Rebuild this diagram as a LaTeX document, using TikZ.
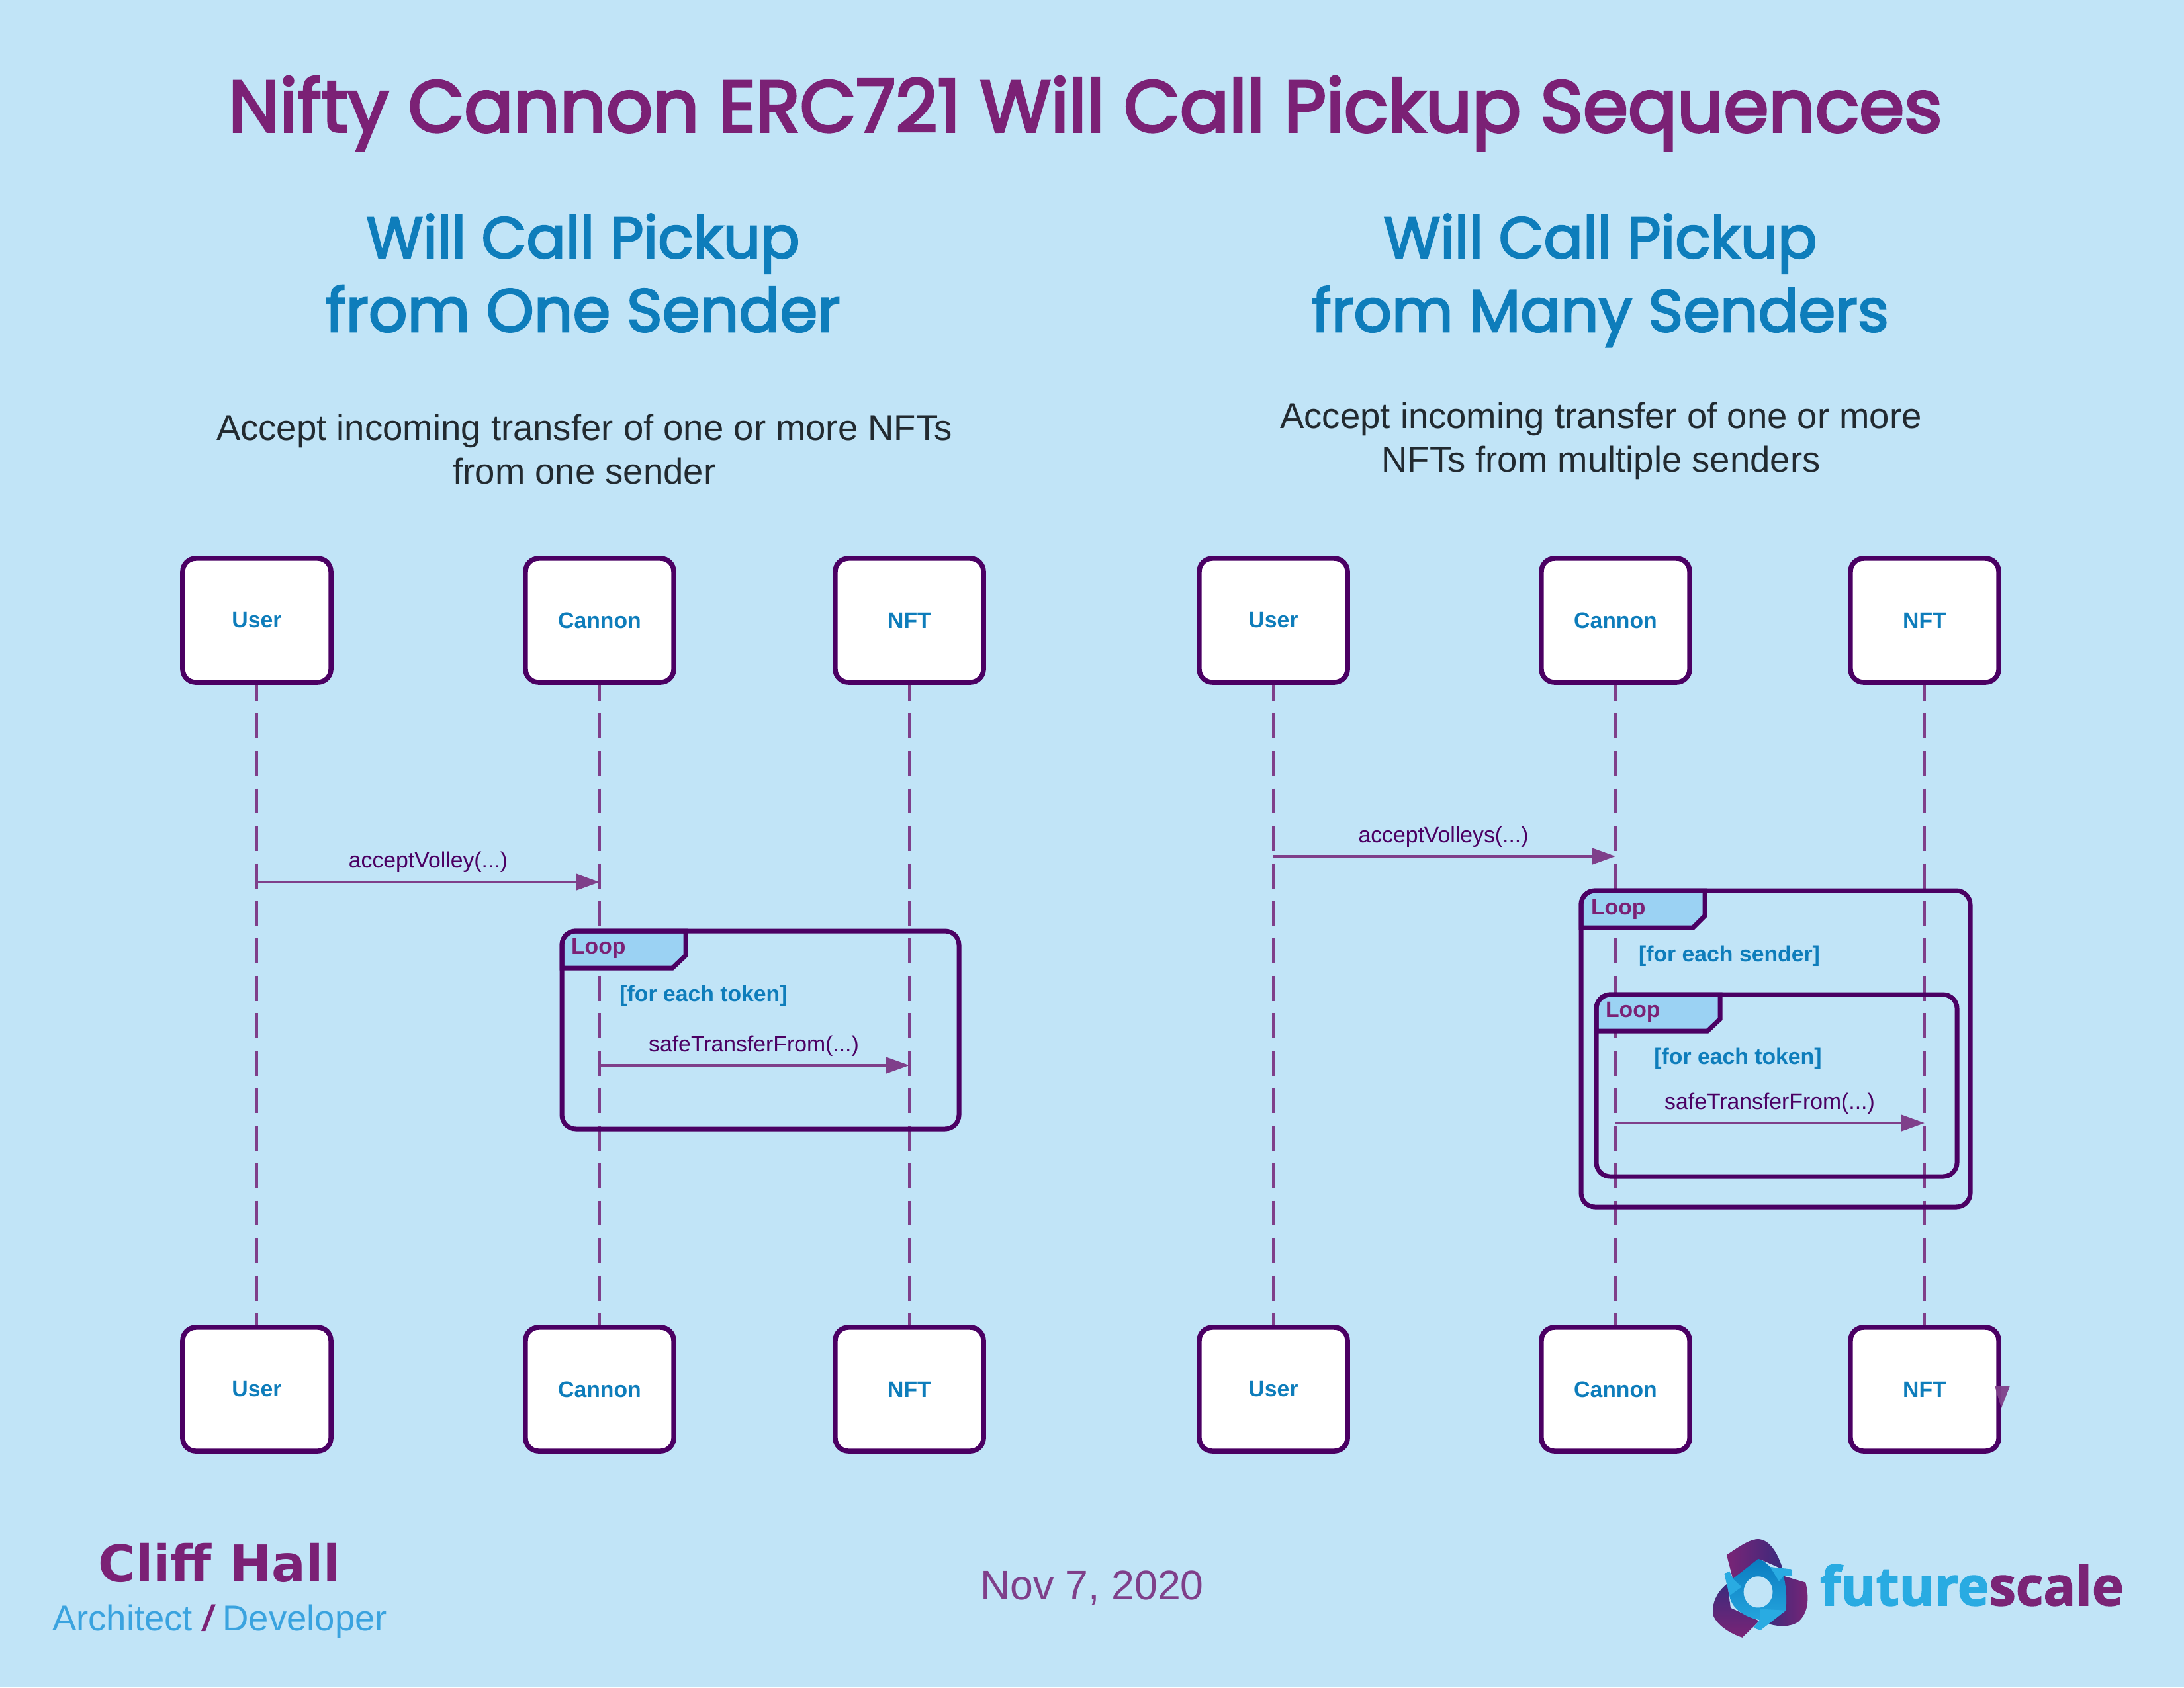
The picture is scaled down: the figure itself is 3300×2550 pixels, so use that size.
\documentclass[tikz,border=0pt]{standalone}
\usepackage{fontspec}
\setmainfont{Liberation Sans}
\newfontfamily\titlefont[FakeBold=3.5]{Poppins}
\newfontfamily\subfont[FakeBold=2.8]{Poppins}
\newfontfamily\headfont{DejaVu Sans}
\newfontfamily\logofont[FakeBold=2]{Open Sans Bold}
\definecolor{bgc}{HTML}{C1E4F7}
\definecolor{titlec}{HTML}{7B2175}
\definecolor{bluec}{HTML}{0E7DBB}
\definecolor{framec}{HTML}{4B0063}
\definecolor{linec}{HTML}{7F3F8A}
\definecolor{tabc}{HTML}{9BD2F3}
\definecolor{skyc}{HTML}{3AA3DF}
\definecolor{descc}{HTML}{222A30}
\definecolor{logob}{HTML}{29ABE2}
\definecolor{logod}{HTML}{0A7CC0}
\definecolor{logop}{HTML}{7A2476}
\definecolor{logon}{HTML}{3C2A7C}
\usetikzlibrary{arrows.meta}
\tikzset{
  txt/.style={inner sep=0pt,outer sep=0pt,anchor=base},
  actor/.style={draw=framec,line width=7.5*0.2845pt,fill=white,rounded corners=5.7pt,minimum width=224*0.2845pt,minimum height=187*0.2845pt,inner sep=0pt,text=bluec,font=\fontsize{9.6}{11}\selectfont\bfseries},
  life/.style={draw=linec,line width=3.8*0.2845pt,dash pattern=on 37.7*0.2845pt off 18.9*0.2845pt,dash phase=13*0.2845pt},
  msg/.style={draw=linec,line width=3.8*0.2845pt,-{Triangle[length=35*0.2845pt,width=24*0.2845pt,fill=linec,color=linec]},shorten >=0pt},
  msgl/.style={txt,text=framec,font=\fontsize{9.6}{11}\selectfont},
  frame/.style={draw=framec,line width=7*0.2845pt,rounded corners=6pt},
  tabb/.style={draw=framec,line width=7*0.2845pt,fill=tabc,line join=miter},
  loopl/.style={txt,anchor=base west,text=titlec,font=\fontsize{9.6}{11}\selectfont\bfseries},
  cond/.style={txt,text=bluec,font=\fontsize{9.6}{11}\selectfont\bfseries},
  big/.style={txt,text=titlec,font=\titlefont\fontsize{31.2}{36}\selectfont},
  sub/.style={txt,text=bluec,font=\subfont\fontsize{#1}{30}\selectfont},
  desc/.style={txt,text=descc,font=\fontsize{15.5}{18}\selectfont},
}
\begin{document}
\begin{tikzpicture}[x=0.01cm,y=-0.01cm]
\useasboundingbox (0,0) rectangle (3300,2550);
\fill[bgc] (0,0) rectangle (3300,2550);
% titles
\node[big] (title) at (1640,199) {Nifty Cannon ERC721 Will Call Pickup Sequences};
\node[sub=25] (s1a) at (881,390) {Will Call Pickup};
\node[sub=26.1] (s1b) at (881,501) {from One Sender};
\node[sub=25] (s2a) at (2418,390) {Will Call Pickup};
\node[sub=25.6] (s2b) at (2418,501) {from Many Senders};
\node[desc] (d1a) at (883,665) {Accept incoming transfer of one or more NFTs};
\node[desc] (d1b) at (883,731) {from one sender};
\node[desc] (d2a) at (2419,647) {Accept incoming transfer of one or more};
\node[desc] (d2b) at (2419,713) {NFTs from multiple senders};
% actors
\foreach \n/\x/\t in {ua/388/User,ca/906/Cannon,na/1374/NFT,ub/1924/User,cb/2441/Cannon,nb/2908/NFT}{
  \node[actor] (\n T) at (\x,937.5) {\t};
  \node[actor] (\n B) at (\x,2099.5) {\t};
  \draw[life] (\n T) -- (\n B);
}
% left frame
\draw[tabb] (849,1463) [rounded corners=6pt] -- (849,1407) [sharp corners] -- (1036,1407) -- (1036,1444) -- (1016,1463) -- cycle;
\draw[frame] (849,1407) rectangle (1449,1706);
\node[loopl] (l1) at (863,1441) {Loop};
\node[cond] (c1) at (1063,1513) {[for each token]};
% right frames
\draw[tabb] (2389,1402) [rounded corners=6pt] -- (2389,1346) [sharp corners] -- (2576,1346) -- (2576,1384) -- (2558,1402) -- cycle;
\draw[frame] (2389,1346) rectangle (2977,1824);
\draw[tabb] (2412,1558) [rounded corners=6pt] -- (2412,1503) [sharp corners] -- (2599,1503) -- (2599,1540) -- (2580,1558) -- cycle;
\draw[frame] (2412,1503) rectangle (2957,1778);
\node[loopl] (l2) at (2404,1382) {Loop};
\node[cond] (c2) at (2613,1453) {[for each sender]};
\node[loopl] (l3) at (2426,1537) {Loop};
\node[cond] (c3) at (2626,1608) {[for each token]};
% messages
\coordinate (m1s) at (uaT |- 0,1333); \coordinate (m1e) at (caT |- 0,1333);
\coordinate (m2s) at (caT |- 0,1610); \coordinate (m2e) at (naT |- 0,1610);
\coordinate (m3s) at (ubT |- 0,1294); \coordinate (m3e) at (cbT |- 0,1294);
\coordinate (m4s) at (cbT |- 0,1697); \coordinate (m4e) at (nbT |- 0,1697);
\draw[msg] (m1s) -- (m1e);
\draw[msg] (m2s) -- (m2e);
\draw[msg] (m3s) -- (m3e);
\draw[msg] (m4s) -- (m4e);
\node[msgl] (t1) at (647,1311) {acceptVolley(...)};
\node[msgl] (t2) at (1139,1589) {safeTransferFrom(...)};
\node[msgl] (t3) at (2181,1273) {acceptVolleys(...)};
\node[msgl] (t4) at (2674,1676) {safeTransferFrom(...)};
% stray arrowhead
\fill[linec,fill opacity=.95] (3014,2094) -- (3037,2094) -- (3024,2128) -- cycle;
% footer
\node[txt,text=titlec,font=\headfont\bfseries\fontsize{21.8}{24}\selectfont] (name) at (332,2390) {Cliff Hall};
\node[txt,text=skyc,font=\fontsize{15.5}{18}\selectfont] (role) at (332,2464) {Architect {\bfseries\itshape\color{titlec}/} Developer};
\node[txt,text=linec,font=\fontsize{17.8}{21}\selectfont] (date) at (1650,2417) {Nov 7, 2020};
% logo
\begin{scope}[shift={(2560,2310)},x=0.003333cm,y=-0.003333cm]
\shade[left color=logop,right color=logon] (147,120) .. controls (200,85) and (250,48) .. (290,48) .. controls (350,50) and (385,130) .. (402,185) -- (300,140) -- (175,228) -- cycle;
\shade[left color=logon,right color=logop] (330,430) -- (410,370) -- (405,215) -- (505,245) .. controls (520,300) and (525,380) .. (470,425) .. controls (430,450) and (370,445) .. (330,430) -- cycle;
\shade[top color=logon,bottom color=logop] (150,250) .. controls (100,290) and (80,340) .. (85,390) .. controls (100,440) and (170,480) .. (218,495) -- (295,420) -- (165,360) -- cycle;
\shade[top color=logod,bottom color=logob] (137,205) -- (160,195) -- (175,228) -- (290,138) .. controls (310,140) and (330,160) .. (345,175) -- (440,185) -- (445,215) -- (405,215) .. controls (420,270) and (420,340) .. (415,372) -- (300,462) -- (270,450) -- (297,415) .. controls (240,405) and (170,370) .. (160,305) -- cycle;
\fill[logob] (345,175) -- (440,185) -- (445,215) -- (405,215) -- (385,240) -- cycle;
\fill[logob] (137,205) -- (160,195) -- (175,228) -- (215,265) -- (160,305) -- cycle;
\fill[logob] (300,365) -- (415,372) -- (300,462) -- (270,450) -- (297,415) -- cycle;
\fill[bgc] (290,288) ellipse [x radius=66,y radius=71];
\end{scope}
\node[txt,anchor=base west,text=logob,font=\logofont\fontsize{23}{26}\selectfont] (logo) at (2750,2426) {future\textcolor{logop}{scale}};
\end{tikzpicture}
\end{document}
